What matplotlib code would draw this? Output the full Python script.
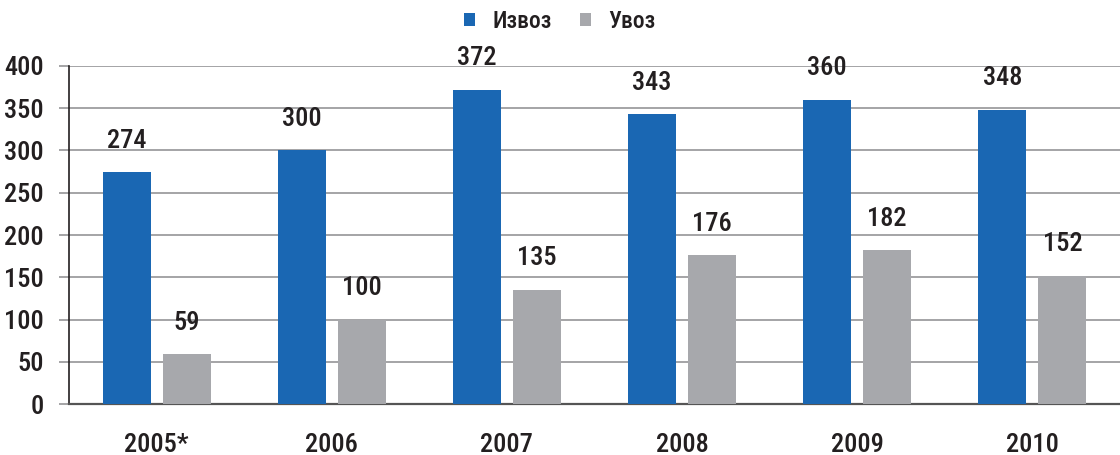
import matplotlib
matplotlib.use('Agg')
import matplotlib.pyplot as plt
import numpy as np

years = ['2005*', '2006', '2007', '2008', '2009', '2010']
izvoz = [274, 300, 372, 343, 360, 348]
uvoz = [59, 100, 135, 176, 182, 152]

blue = '#1a67b3'
gray = '#a7a8ac'
txt = '#231f20'

plt.rcParams['font.family'] = ['Roboto Condensed', 'IBM Plex Sans Condensed', 'DejaVu Sans']
plt.rcParams['font.weight'] = 500

fig = plt.figure(figsize=(11.2, 4.55), dpi=100)
ax = fig.add_axes([0.0616, 0.112, 0.9384, 0.743])

x = np.arange(len(years))
w = 0.274
off = 0.171
b1 = ax.bar(x - off, izvoz, w, color=blue, label='Извоз', zorder=3)
b2 = ax.bar(x + off, uvoz, w, color=gray, label='Увоз', zorder=3)

for bars, vals in ((b1, izvoz), (b2, uvoz)):
    for r, v in zip(bars, vals):
        ax.annotate(str(v), (r.get_x() + r.get_width() / 2, v), xytext=(0, 14),
                    textcoords='offset points', ha='center', va='bottom',
                    fontsize=19, color=txt)

ax.set_xlim(-0.5, 5.5)
ax.set_ylim(0, 400)
ax.set_yticks(range(0, 401, 50))
ax.set_xticks(x)
ax.set_xticklabels(years)
ax.yaxis.grid(True, color='#9d9d9f', linewidth=1.3, zorder=0)
ax.set_axisbelow(True)

for s in ('top', 'right'):
    ax.spines[s].set_visible(False)
ax.spines['left'].set_color(txt)
ax.spines['left'].set_linewidth(1.2)
ax.spines['bottom'].set_color('#555555')
ax.spines['bottom'].set_linewidth(1.6)

ax.tick_params(axis='y', length=7, width=1.3, color='#9d9d9f', labelsize=19, labelcolor=txt, pad=11)
ax.tick_params(axis='x', length=0, labelsize=19, labelcolor=txt, pad=21)

fig.legend(handles=[b1, b2], loc='upper center', bbox_to_anchor=(0.5, 1.025), ncol=2,
           frameon=False, fontsize=17, handlelength=0.45, handleheight=0.45,
           handletextpad=0.75, columnspacing=1.2, labelcolor=txt)

plt.savefig('out.png', dpi=100)
